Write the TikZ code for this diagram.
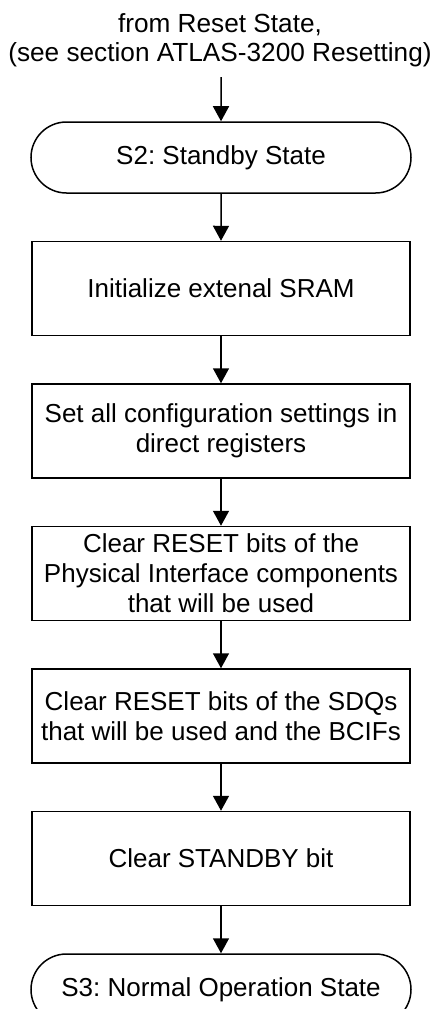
\documentclass[tikz,border=0pt]{standalone}
\usepackage{fontspec}
\setmainfont{Liberation Sans}
\usetikzlibrary{positioning,shapes.misc,arrows.meta}
\frenchspacing
\tikzset{
  zustand/.style={rounded rectangle, draw, line width=1.5pt, minimum width=380pt, minimum height=71pt, inner sep=0pt},
  schritt/.style={rectangle, draw, line width=1.5pt, minimum width=378pt, minimum height=94pt, inner sep=0pt, align=center},
  pfeil/.style={-{Triangle[length=15pt,width=16pt]}, line width=1.5pt}
}
\begin{document}
\begin{tikzpicture}[x=1pt, y=1pt, font=\fontsize{26}{30}\selectfont, node distance=47pt]
    \useasboundingbox (0,0) rectangle (435,-1009);

    % Einstieg und Zustaende
    \node[align=center, inner sep=0pt, inner ysep=9.5pt, anchor=south, font=\fontsize{26.2}{29.5}\selectfont] (start) at (220,-77) {from Reset State,\\(see section ATLAS-3200 Resetting)};
    \node[zustand] (s2) at (221,-157.5) {S2: Standby State};

    % Schritte
    \node[schritt, below=47pt of s2] (sram) {Initialize extenal SRAM};
    \node[schritt, below=of sram] (config) {Set all configuration settings in\\direct registers};
    \node[schritt, below=of config] (phy) {Clear RESET bits of the\\Physical Interface components\\that will be used};
    \node[schritt, below=of phy] (sdq) {Clear RESET bits of the SDQs\\that will be used and the BCIFs};
    \node[schritt, below=of sdq] (standby) {Clear STANDBY bit};
    \node[zustand, below=of standby] (s3) {S3: Normal Operation State};

    % Verbindungspfeile
    \draw[pfeil] (start.south -| s2.north) -- (s2);
    \draw[pfeil] (s2) -- (sram);
    \draw[pfeil] (sram) -- (config);
    \draw[pfeil] (config) -- (phy);
    \draw[pfeil] (phy) -- (sdq);
    \draw[pfeil] (sdq) -- (standby);
    \draw[pfeil] (standby) -- (s3);
\end{tikzpicture}
\end{document}
